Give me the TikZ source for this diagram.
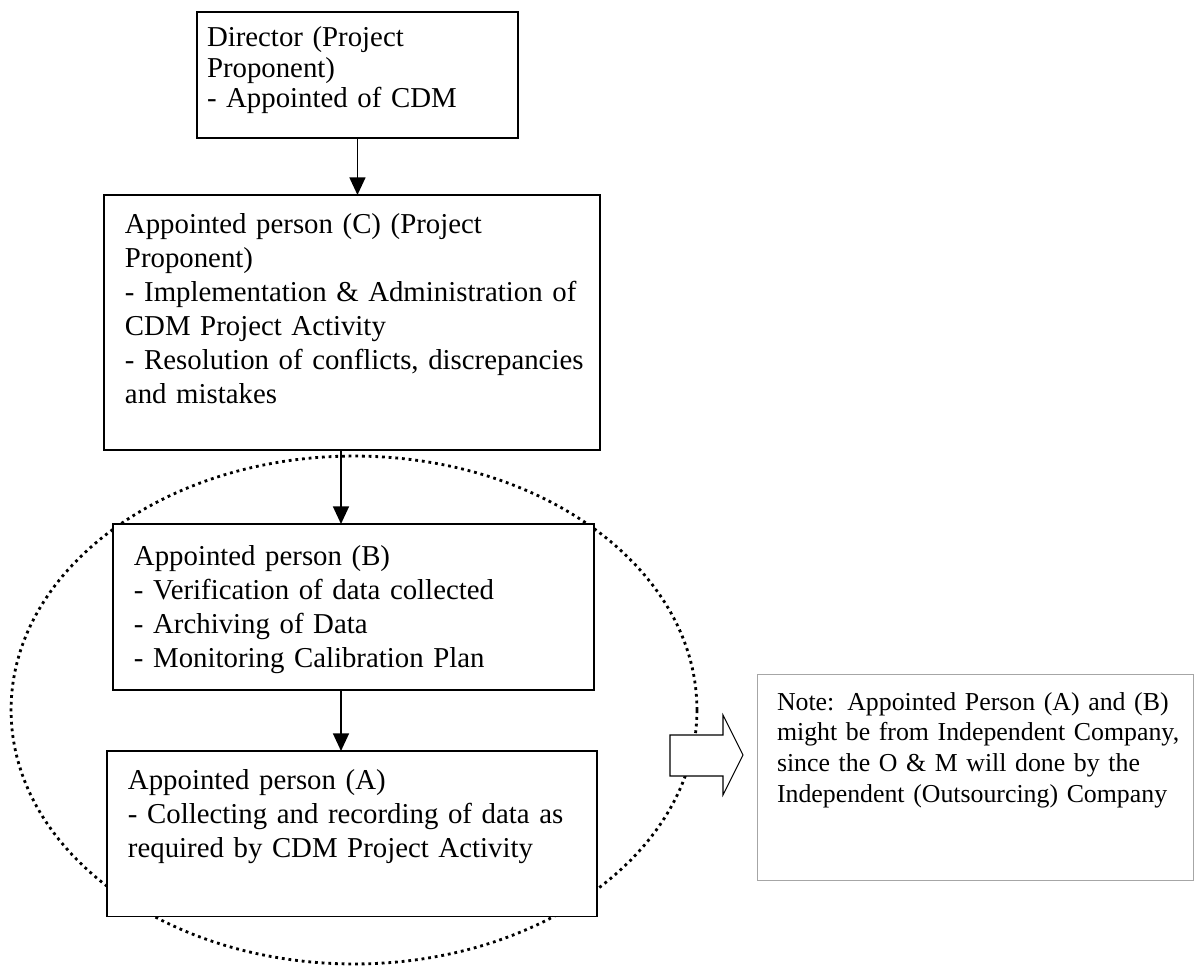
\documentclass[tikz,border=0pt]{standalone}
\usepackage{fontspec}
\setmainfont{Liberation Serif}
\usetikzlibrary{arrows.meta,positioning,calc}

\begin{document}
\begin{tikzpicture}[x=0.02cm,y=-0.02cm,
  unit/.style={draw,line width=1.1pt,fill=white,anchor=north west,outer sep=0pt,
    inner xsep=0.42cm,inner ysep=0pt,align=left,text height=0.77cm,
    font=\fontsize{16.4pt}{19.4pt}\selectfont},
  flow/.style={line width=1.1pt,-{Triangle[length=10pt,width=9pt]}}]
\useasboundingbox (0,0) rectangle (1197,968);
\coordinate (axis) at (341,0);
\draw[line width=1.6pt,dash pattern=on 1.6pt off 2.2pt] (354,710) ellipse [x radius=6.86cm,y radius=5.08cm];
\node[unit,inner xsep=0.2cm,text width=6.02cm,text height=0.7cm,text depth=1.82cm,
  font=\fontsize{16.4pt}{17.2pt}\selectfont] (dir) at (197,12) {Director (Project\\Proponent)\\- Appointed of CDM};
\node[unit,text width=9.08cm,text depth=4.34cm] (pc) at (104,195) {Appointed person (C) (Project\\Proponent)\\- Implementation \& Administration of\\CDM Project Activity\\\mbox{- Resolution of conflicts, discrepancies}\\and mistakes};
\node[unit,text width=8.78cm,text depth=2.5cm,text height=0.82cm] (pb) at (113,524) {Appointed person (B)\\- Verification of data collected\\- Archiving of Data\\- Monitoring Calibration Plan};
\node[unit,text width=8.96cm,text depth=2.54cm] (pa) at (107,751) {Appointed person (A)\\- Collecting and recording of data as\\required by CDM Project Activity};
\node[unit,draw=gray!70,line width=0.5pt,inner xsep=0.4cm,text width=7.94cm,text height=0.72cm,text depth=3.4cm,
  font=\fontsize{14.7pt}{17.6pt}\selectfont] (note) at (757,674) {Note: Appointed Person (A) and (B)\\\mbox{might be from Independent Company,}\\since the O \& M will done by the\\Independent (Outsourcing) Company};
\draw[line width=0.6pt,fill=white] (670,735) -- (723,735) -- (723,715) -- (743,755) -- (723,795) -- (723,776) -- (670,776) -- cycle;
\draw[flow] (dir.south) -- (dir.south |- pc.north);
\draw[flow] (pc.south -| axis) -- (pb.north -| axis);
\draw[flow] (pb.south -| axis) -- (pa.north -| axis);
\end{tikzpicture}
\end{document}
